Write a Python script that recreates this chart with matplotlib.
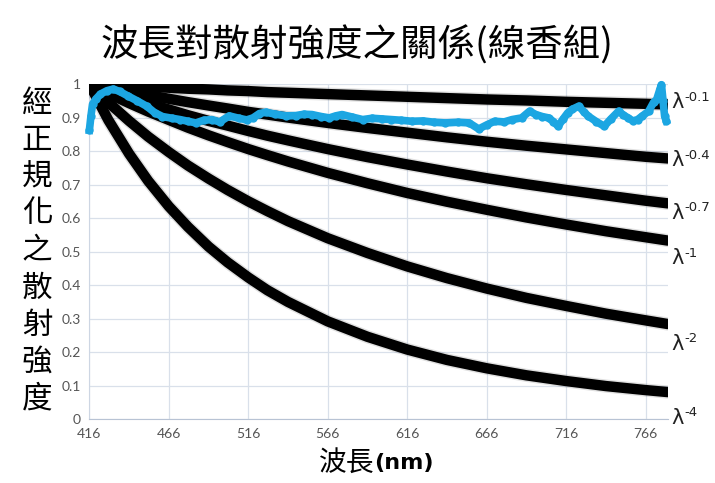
import matplotlib
matplotlib.use("Agg")
import matplotlib.pyplot as plt
import matplotlib.patheffects as pe

# wavelengths (nm) where the model curves were read
wl = [416, 428, 441, 453, 466, 478, 491, 503, 516, 528, 541, 566, 591, 616, 641, 666, 691, 716, 741, 766, 780]

# normalised model curves, label -> values
curves = {
    "-0.1": [1.0, 0.997, 0.994, 0.992, 0.989, 0.986, 0.984, 0.981, 0.979, 0.976, 0.974, 0.970, 0.966, 0.962, 0.958, 0.954, 0.951, 0.947, 0.944, 0.941, 0.939],
    "-0.4": [1.0, 0.989, 0.977, 0.967, 0.956, 0.946, 0.936, 0.927, 0.917, 0.909, 0.900, 0.884, 0.869, 0.855, 0.841, 0.828, 0.816, 0.805, 0.794, 0.783, 0.778],
    "-0.7": [1.0, 0.980, 0.960, 0.942, 0.924, 0.907, 0.890, 0.876, 0.860, 0.846, 0.832, 0.806, 0.782, 0.760, 0.739, 0.719, 0.701, 0.684, 0.668, 0.652, 0.644],
    "-1": [1.0, 0.972, 0.943, 0.918, 0.893, 0.870, 0.847, 0.827, 0.806, 0.788, 0.769, 0.735, 0.704, 0.675, 0.649, 0.625, 0.602, 0.581, 0.561, 0.543, 0.533],
    "-2": [1.0, 0.945, 0.890, 0.843, 0.797, 0.757, 0.718, 0.684, 0.650, 0.621, 0.591, 0.540, 0.496, 0.456, 0.421, 0.390, 0.362, 0.338, 0.315, 0.295, 0.284],
    "-4": [1.0, 0.892, 0.792, 0.711, 0.635, 0.574, 0.515, 0.468, 0.423, 0.385, 0.350, 0.292, 0.246, 0.208, 0.177, 0.152, 0.131, 0.114, 0.099, 0.087, 0.081],
}

# measured incense-smoke spectrum
meas_wl = [416, 417, 418, 420, 423, 427, 431, 435, 440, 446, 452, 457, 462, 468, 473, 478, 483, 488,
           493, 498, 504, 510, 515, 519, 523, 527, 533, 540, 546, 551, 556, 562, 567, 571, 575, 581,
           588, 594, 600, 606, 612, 619, 626, 633, 640, 648, 655, 661, 666, 671, 677, 682, 688, 693,
           697, 701, 705, 708, 711, 714, 717, 720, 724, 727, 730, 735, 740, 744, 749, 752, 755, 758,
           761, 764, 768, 771, 773, 775, 776, 777, 778, 779]
meas_val = [0.862, 0.905, 0.94, 0.955, 0.97, 0.98, 0.985, 0.978, 0.965, 0.95, 0.934, 0.915, 0.903, 0.898,
            0.894, 0.889, 0.884, 0.892, 0.894, 0.887, 0.905, 0.898, 0.893, 0.899, 0.912, 0.916, 0.910,
            0.905, 0.906, 0.910, 0.909, 0.903, 0.899, 0.905, 0.909, 0.902, 0.894, 0.898, 0.896, 0.894,
            0.892, 0.889, 0.890, 0.886, 0.884, 0.886, 0.884, 0.866, 0.878, 0.889, 0.887, 0.894, 0.899,
            0.919, 0.909, 0.903, 0.899, 0.888, 0.874, 0.895, 0.914, 0.925, 0.934, 0.918, 0.904, 0.888,
            0.874, 0.895, 0.919, 0.908, 0.899, 0.890, 0.894, 0.905, 0.919, 0.945, 0.954, 0.984, 0.998,
            0.95, 0.904, 0.89]

xticks = [416, 466, 516, 566, 616, 666, 716, 766]
yticks = [0, 0.1, 0.2, 0.3, 0.4, 0.5, 0.6, 0.7, 0.8, 0.9, 1]
ytick_labels = ["0", "0.1", "0.2", "0.3", "0.4", "0.5", "0.6", "0.7", "0.8", "0.9", "1"]
label_y = {"-0.1": 0.945, "-0.4": 0.772, "-0.7": 0.615, "-1": 0.48, "-2": 0.225, "-4": 0.005}

title = "波長對散射強度之關係(線香組)"
ylabel = "經正規化之散射強度"

cjk = ["Noto Sans CJK TC", "DejaVu Sans"]
tick_font = "Lato"
grid_col = "#d9e0ea"

fig = plt.figure(figsize=(7.15, 4.83), dpi=100)
ax = fig.add_axes([0.125, 0.132, 0.809, 0.694])

shadow = [pe.Stroke(linewidth=9.5, foreground="black", alpha=0.12), pe.Normal()]
for key, vals in curves.items():
    ax.plot(wl, vals, color="black", lw=7.5, solid_capstyle="round", solid_joinstyle="round",
            zorder=3, path_effects=shadow)
    ax.text(782, label_y[key], "λ", fontsize=15, va="center", ha="left", color="#222222",
            family="DejaVu Sans", clip_on=False)
    ax.annotate(key, xy=(782, label_y[key]), xytext=(9.5, -1), textcoords="offset points",
                fontsize=9.5, va="bottom", ha="left", color="#222222", family="DejaVu Sans",
                annotation_clip=False)

ax.plot(meas_wl, meas_val, color="#1ca6e2", lw=5.5, marker="o", ms=6, mec="none",
        solid_joinstyle="round", zorder=4, clip_on=False)

ax.set_xlim(416, 780)
ax.set_ylim(0, 1)
ax.set_xticks(xticks)
ax.set_yticks(yticks)
ax.set_yticklabels(ytick_labels)
ax.grid(True, color=grid_col, lw=0.9)
ax.set_axisbelow(True)
for s in ["top", "right"]:
    ax.spines[s].set_visible(False)
ax.spines["bottom"].set_color("#b8c3d4")
ax.spines["left"].set_color("#cdd6e3")
ax.tick_params(length=0, labelsize=10, labelcolor="#555555", pad=6)
for lab in ax.get_xticklabels() + ax.get_yticklabels():
    lab.set_fontfamily(tick_font)

fig.text(0.5, 0.905, title, fontsize=27, family=cjk, ha="center", va="center")

for i, ch in enumerate(ylabel):
    fig.text(37 / 715, 1 - (103 + i * 37) / 483, ch, fontsize=22, family=cjk, ha="center", va="center")

fig.text(374 / 715, 1 - 463 / 483, "波長", fontsize=20, family=cjk, ha="right", va="center")
fig.text(374 / 715, 1 - 463 / 483, "(nm)", fontsize=16, fontweight="bold", family="DejaVu Sans",
         ha="left", va="center")

fig.savefig("out.png", dpi=100)
